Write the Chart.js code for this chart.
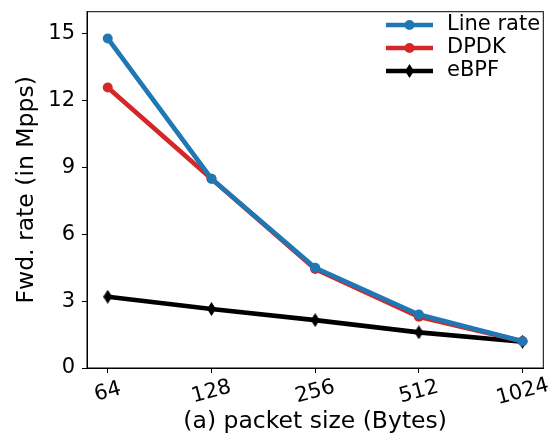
<!DOCTYPE html>
<html lang="en">
<head>
    <meta charset="UTF-8">
    <title>Fwd. rate</title>
    <script src="https://cdn.jsdelivr.net/npm/chart.js@4.4.1/dist/chart.umd.min.js"></script>
    <style>
        body { margin: 0; background: #fff; }
        #wrap { width: 555px; height: 436px; }
    </style>
</head>
<body>
    <div id="wrap"><canvas id="myChart" width="555" height="436"></canvas></div>
    <script>
        // data
        var sizes = ["64", "128", "256", "512", "1024"];
        var lineRate = [14.8, 8.5, 4.5, 2.4, 1.2];
        var dpdk = [12.6, 8.5, 4.45, 2.3, 1.2];
        var ebpf = [3.2, 2.65, 2.15, 1.6, 1.18];
        var yTicks = [0, 3, 6, 9, 12, 15];

        var FONT = "'DejaVu Sans', sans-serif";
        var LW = 4.7;

        function pts(arr) {
            return arr.map(function (v, i) { return { x: i, y: v }; });
        }

        // thin diamond marker like matplotlib 'd'
        var diamond = document.createElement('canvas');
        diamond.width = 9; diamond.height = 14;
        var dc = diamond.getContext('2d');
        dc.fillStyle = '#000';
        dc.beginPath();
        dc.moveTo(4.5, 0); dc.lineTo(9, 7); dc.lineTo(4.5, 14); dc.lineTo(0, 7);
        dc.closePath(); dc.fill();

        // custom x labels, box and legend
        var extras = {
            id: 'extras',
            afterDraw: function (chart) {
                var ctx = chart.ctx, a = chart.chartArea, xs = chart.scales.x;
                ctx.save();
                ctx.strokeStyle = '#000';
                ctx.lineWidth = 1;
                ctx.strokeRect(a.left, a.top, a.right - a.left, a.bottom - a.top);

                ctx.fillStyle = '#000';
                ctx.font = '21px ' + FONT;
                ctx.textAlign = 'center';
                ctx.textBaseline = 'middle';
                sizes.forEach(function (s, i) {
                    ctx.save();
                    ctx.translate(xs.getPixelForValue(i), 392);
                    ctx.rotate(-15 * Math.PI / 180);
                    ctx.fillText(s, 0, 0);
                    ctx.restore();
                });

                // legend
                var x0 = 386, x1 = 433, tx = 447, y = 25;
                chart.data.datasets.forEach(function (ds) {
                    ctx.strokeStyle = ds.borderColor;
                    ctx.lineWidth = LW;
                    ctx.beginPath(); ctx.moveTo(x0, y); ctx.lineTo(x1, y); ctx.stroke();
                    var cx = (x0 + x1) / 2;
                    if (ds.pointStyle === 'circle') {
                        ctx.fillStyle = ds.borderColor;
                        ctx.beginPath(); ctx.arc(cx, y, 5, 0, Math.PI * 2); ctx.fill();
                    } else {
                        ctx.drawImage(diamond, cx - 4.5, y - 7);
                    }
                    ctx.fillStyle = '#000';
                    ctx.textAlign = 'left';
                    ctx.fillText(ds.label, tx, y);
                    y += 23;
                });
                ctx.restore();
            }
        };

        var ctx = document.getElementById('myChart').getContext('2d');
        var chart = new Chart(ctx, {
            type: 'line',
            data: {
                datasets: [{
                    label: 'Line rate',
                    data: pts(lineRate),
                    borderColor: '#1f77b4',
                    backgroundColor: '#1f77b4',
                    borderWidth: LW,
                    pointStyle: 'circle',
                    pointRadius: 5,
                    pointBorderWidth: 0,
                    order: 0
                }, {
                    label: 'DPDK',
                    data: pts(dpdk),
                    borderColor: '#d62728',
                    backgroundColor: '#d62728',
                    borderWidth: LW,
                    pointStyle: 'circle',
                    pointRadius: 5,
                    pointBorderWidth: 0,
                    order: 1
                }, {
                    label: 'eBPF',
                    data: pts(ebpf),
                    borderColor: '#000',
                    backgroundColor: '#000',
                    borderWidth: LW,
                    pointStyle: diamond,
                    pointRadius: 7,
                    order: 2
                }]
            },
            options: {
                responsive: false,
                devicePixelRatio: 1,
                animation: false,
                layout: { padding: { top: 6, right: 8, left: 0, bottom: 0 } },
                plugins: { legend: { display: false }, tooltip: { enabled: false } },
                scales: {
                    x: {
                        type: 'linear',
                        min: -0.2,
                        max: 4.2,
                        afterBuildTicks: function (s) {
                            s.ticks = sizes.map(function (v, i) { return { value: i }; });
                        },
                        afterFit: function (s) {
                            s.height = 68;
                            s.paddingLeft = 0; s.paddingRight = 0;
                        },
                        grid: { drawOnChartArea: false, drawTicks: true, tickLength: 5, tickColor: '#000', tickWidth: 1 },
                        border: { display: true, color: '#000', width: 1 },
                        ticks: { display: false },
                        title: {
                            display: true,
                            text: '(a) packet size (Bytes)',
                            color: '#000',
                            font: { family: FONT, size: 23.5 },
                            padding: { top: 0, bottom: 0 }
                        }
                    },
                    y: {
                        min: 0,
                        max: 16,
                        afterBuildTicks: function (s) {
                            s.ticks = yTicks.map(function (v) { return { value: v }; });
                        },
                        afterFit: function (s) {
                            s.width = 87;
                            s.paddingTop = 0; s.paddingBottom = 0;
                        },
                        grid: { drawOnChartArea: false, drawTicks: true, tickLength: 5, tickColor: '#000', tickWidth: 1 },
                        border: { display: true, color: '#000', width: 1 },
                        ticks: {
                            color: '#000',
                            padding: 7,
                            font: { family: FONT, size: 21 }
                        },
                        title: {
                            display: true,
                            text: 'Fwd. rate (in Mpps)',
                            color: '#000',
                            font: { family: FONT, size: 23.5 },
                            padding: { top: 13, bottom: 0 }
                        }
                    }
                }
            },
            plugins: [extras]
        });
    </script>
</body>
</html>
